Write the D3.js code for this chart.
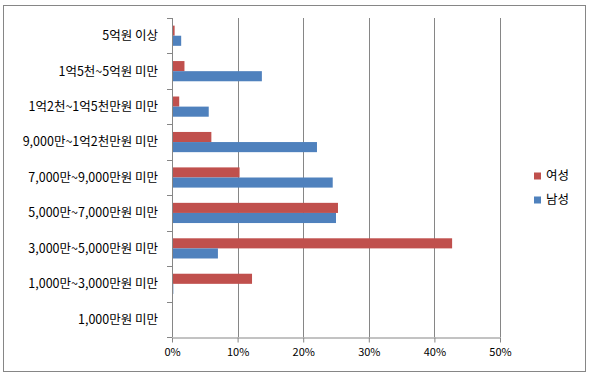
<!DOCTYPE html>
<html>
<head>
<meta charset="utf-8">
<script src="https://cdn.jsdelivr.net/npm/d3@7"></script>
<style>
  body { margin: 0; background: #fff; }
  text { font-family: "Noto Sans CJK KR", sans-serif; fill: #000; }
</style>
</head>
<body>
<svg width="593" height="377"></svg>
<script>
// data
var categories = [
  '5억원 이상',
  '1억5천~5억원 미만',
  '1억2천~1억5천만원 미만',
  '9,000만~1억2천만원 미만',
  '7,000만~9,000만원 미만',
  '5,000만~7,000만원 미만',
  '3,000만~5,000만원 미만',
  '1,000만~3,000만원 미만',
  '1,000만원 미만'
];
var seriesNames = ['여성', '남성'];
var female = [0.4, 1.9, 1.1, 6.0, 10.3, 25.3, 42.7, 12.2, 0];
var male = [1.4, 13.7, 5.6, 22.1, 24.5, 25.0, 7.0, 0.2, 0];
var xTicks = [0, 10, 20, 30, 40, 50];
var colors = ['#C0504D', '#4F81BD'];

var margin = {top: 18, left: 172, right: 93, bottom: 40};
var width = 593, height = 377;

var svg = d3.select('svg');

// outer frame
svg.append('rect')
  .attr('x', 3.5).attr('y', 5.5)
  .attr('width', 582).attr('height', 366)
  .attr('fill', 'none').attr('stroke', '#868686');

var xScale = d3.scaleLinear()
  .domain([0, 50])
  .range([margin.left, 500]);
var yScale = d3.scaleBand()
  .domain(categories)
  .range([margin.top, height - margin.bottom])
  .paddingInner(0.43).paddingOuter(0.215);
var inner = d3.scaleBand()
  .domain(seriesNames)
  .range([0, yScale.bandwidth()]);

var plotBottom = height - margin.bottom;

// gridlines
svg.append('g').selectAll('line')
  .data(xTicks.slice(1))
  .enter().append('line')
  .attr('x1', d => Math.round(xScale(d)) + 0.5)
  .attr('x2', d => Math.round(xScale(d)) + 0.5)
  .attr('y1', margin.top)
  .attr('y2', plotBottom)
  .attr('stroke', '#868686');

// bars
var rows = categories.map((c, i) => ({cat: c, values: [female[i], male[i]]}));
var groups = svg.append('g').selectAll('g')
  .data(rows)
  .enter().append('g')
  .attr('transform', d => 'translate(0,' + yScale(d.cat) + ')');
groups.selectAll('rect')
  .data(d => d.values.map((v, j) => ({name: seriesNames[j], v: v, j: j})))
  .enter().append('rect')
  .attr('x', xScale(0))
  .attr('y', d => inner(d.name))
  .attr('width', d => xScale(d.v) - xScale(0))
  .attr('height', inner.bandwidth())
  .attr('fill', d => colors[d.j]);

// axes
var xAxis = d3.axisBottom(xScale)
  .tickValues(xTicks)
  .tickFormat(d => d + '%')
  .tickSizeInner(5).tickSizeOuter(0).tickPadding(6);
var gx = svg.append('g')
  .attr('transform', 'translate(0,' + (plotBottom + 0.5) + ')')
  .call(xAxis);
gx.select('.domain').attr('stroke', '#868686');
gx.selectAll('line').attr('stroke', '#868686');
gx.selectAll('text').attr('font-size', 11).style('font-family', '"Noto Sans CJK KR", sans-serif');

// category boundary ticks on y axis
var yBounds = d3.range(categories.length + 1).map(i => margin.top + i * yScale.step());
var gy = svg.append('g');
gy.append('line')
  .attr('x1', margin.left + 0.5).attr('x2', margin.left + 0.5)
  .attr('y1', margin.top).attr('y2', plotBottom)
  .attr('stroke', '#868686');
gy.selectAll('line.tk')
  .data(yBounds)
  .enter().append('line')
  .attr('class', 'tk')
  .attr('x1', margin.left - 5).attr('x2', margin.left)
  .attr('y1', d => Math.round(d) + 0.5).attr('y2', d => Math.round(d) + 0.5)
  .attr('stroke', '#868686');
gy.selectAll('text')
  .data(categories)
  .enter().append('text')
  .attr('x', 158)
  .attr('y', d => yScale(d) + yScale.bandwidth() / 2)
  .attr('dy', '0.35em')
  .attr('text-anchor', 'end')
  .attr('font-size', 12.5)
  .text(d => d);

// legend
var legend = svg.append('g').selectAll('g')
  .data(seriesNames)
  .enter().append('g')
  .attr('transform', (d, i) => 'translate(534,' + (176 + i * 24) + ')');
legend.append('rect')
  .attr('x', 0).attr('y', -3.5)
  .attr('width', 7).attr('height', 7)
  .attr('fill', (d, i) => colors[i]);
legend.append('text')
  .attr('x', 12).attr('y', 0)
  .attr('dy', '0.35em')
  .attr('font-size', 12.5)
  .text(d => d);
</script>
</body>
</html>
